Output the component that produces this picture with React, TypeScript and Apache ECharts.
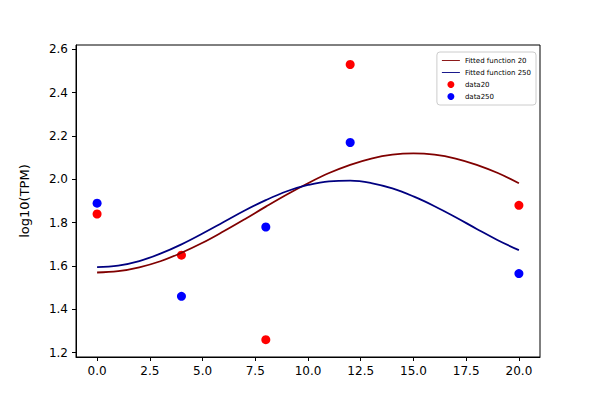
import React, { useEffect, useRef } from 'react';
import * as echarts from 'echarts';

const timeSteps = [0, 1, 2, 3, 4, 5, 6, 7, 8, 9, 10, 11, 12, 13, 14, 15, 16, 17, 18, 19, 20];
const fit20 = [1.570, 1.576, 1.594, 1.622, 1.661, 1.707, 1.760, 1.816, 1.874, 1.930, 1.982, 2.029, 2.067, 2.096, 2.114, 2.120, 2.114, 2.096, 2.067, 2.029, 1.982];
const fit250 = [1.595, 1.602, 1.623, 1.657, 1.700, 1.750, 1.803, 1.856, 1.904, 1.945, 1.974, 1.991, 1.994, 1.983, 1.958, 1.921, 1.876, 1.825, 1.771, 1.719, 1.673];
const dataX = [0, 4, 8, 12, 20];
const data20 = [1.84, 1.65, 1.26, 2.53, 1.88];
const data250 = [1.89, 1.46, 1.78, 2.17, 1.565];
const xTicks = [0, 2.5, 5, 7.5, 10, 12.5, 15, 17.5, 20];
const yTicks = [1.2, 1.4, 1.6, 1.8, 2.0, 2.2, 2.4, 2.6];

const App: React.FC = () => {
  const chartRef = useRef<HTMLDivElement>(null);

  useEffect(() => {
    if (!chartRef.current) return;
    const chart = echarts.init(chartRef.current, null, { renderer: 'svg' });
    const axisCommon = {
      axisLine: { show: true, onZero: false, lineStyle: { color: '#000' } },
      splitLine: { show: false },
      axisLabel: { color: '#000', fontSize: 12 },
      axisTick: { show: true, length: 4, lineStyle: { color: '#000' } },
    };
    chart.setOption({
      animation: false,
      textStyle: { fontFamily: 'DejaVu Sans' },
      grid: { left: 76, right: 60, top: 45, bottom: 43, show: true, borderColor: '#000', borderWidth: 1 },
      legend: {
        orient: 'vertical',
        right: 64,
        top: 52,
        itemWidth: 18,
        itemHeight: 7,
        itemGap: 5,
        padding: [5, 5],
        borderColor: '#ccc',
        borderWidth: 1,
        borderRadius: 3,
        backgroundColor: '#fff',
        textStyle: { fontSize: 7, color: '#000' },
        data: [
          { name: 'Fitted function 20', icon: 'path://M0,4.5H20V5.5H0Z' },
          { name: 'Fitted function 250', icon: 'path://M0,4.5H20V5.5H0Z' },
          { name: 'data20', icon: 'circle' },
          { name: 'data250', icon: 'circle' },
        ],
      },
      xAxis: {
        type: 'value', min: -1, max: 21,
        ...axisCommon,
        axisLabel: { ...axisCommon.axisLabel, customValues: xTicks, formatter: (v: number) => v.toFixed(1) },
        axisTick: { ...axisCommon.axisTick, customValues: xTicks },
      },
      yAxis: {
        type: 'value', min: 1.18, max: 2.62,
        name: 'log10(TPM)', nameLocation: 'middle', nameGap: 45,
        nameTextStyle: { fontSize: 13, color: '#000' },
        ...axisCommon,
        axisLabel: { ...axisCommon.axisLabel, customValues: yTicks, formatter: (v: number) => v.toFixed(1) },
        axisTick: { ...axisCommon.axisTick, customValues: yTicks },
      },
      series: [
        {
          name: 'Fitted function 20', type: 'line', smooth: 0.4, showSymbol: false,
          color: '#800000', lineStyle: { width: 1.8 },
          data: timeSteps.map((t, i) => [t, fit20[i]]),
        },
        {
          name: 'Fitted function 250', type: 'line', smooth: 0.4, showSymbol: false,
          color: '#000080', lineStyle: { width: 1.8 },
          data: timeSteps.map((t, i) => [t, fit250[i]]),
        },
        {
          name: 'data20', type: 'scatter', symbolSize: 9, color: '#ff0000',
          itemStyle: { opacity: 1 },
          data: dataX.map((t, i) => [t, data20[i]]),
        },
        {
          name: 'data250', type: 'scatter', symbolSize: 9, color: '#0000ff',
          itemStyle: { opacity: 1 },
          data: dataX.map((t, i) => [t, data250[i]]),
        },
      ],
    });
    return () => chart.dispose();
  }, []);

  return <div ref={chartRef} style={{ width: 600, height: 400, marginLeft: -8, marginTop: -8 }} />;
};

export default App;
